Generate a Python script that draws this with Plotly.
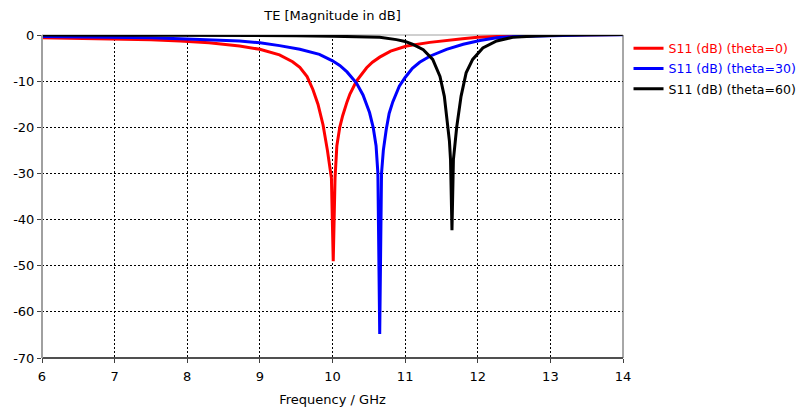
import plotly.graph_objects as go

title_text = "TE [Magnitude in dB]"
x_title = "Frequency / GHz"
series_names = ["S11 (dB) (theta=0)", "S11 (dB) (theta=30)", "S11 (dB) (theta=60)"]
series_colors = ["#ff0000", "#0000ff", "#000000"]

freq_t0 = [6.0, 6.5, 7.0, 7.5, 7.9, 8.3, 8.72, 9.0, 9.27, 9.45, 9.55, 9.65, 9.73, 9.80, 9.87,
           9.93, 9.985, 10.01, 10.035, 10.06, 10.10, 10.14, 10.20, 10.24, 10.33, 10.41, 10.47,
           10.55, 10.65, 10.8, 11.02, 11.34, 11.6, 11.79, 12.0, 12.26, 12.6, 13.0, 13.5, 14.0]
s11_t0 = [-0.6, -0.7, -0.85, -1.05, -1.3, -1.7, -2.4, -3.1, -4.3, -5.8, -7.0, -9.0, -11.8, -15.0, -19.5,
          -25.0, -31.0, -49.0, -31.0, -24.0, -20.0, -17.5, -14.5, -12.8, -10.0, -8.2, -7.1,
          -5.9, -4.8, -3.5, -2.4, -1.6, -1.1, -0.8, -0.5, -0.3, -0.1, 0.0, 0.05, 0.1]

freq_t30 = [6.0, 6.5, 7.0, 7.5, 7.9, 8.3, 8.72, 9.0, 9.27, 9.55, 9.82, 10.0, 10.1, 10.2, 10.33,
            10.42, 10.51, 10.56, 10.60, 10.625, 10.65, 10.675, 10.70, 10.74, 10.78, 10.83, 10.92,
            11.0, 11.10, 11.2, 11.34, 11.57, 11.80, 12.03, 12.26, 12.53, 13.0, 13.5, 14.0]
s11_t30 = [-0.3, -0.35, -0.45, -0.6, -0.8, -1.0, -1.3, -1.7, -2.3, -3.1, -4.2, -5.6, -6.6, -8.0, -10.4,
           -13.0, -16.8, -20.0, -24.0, -30.0, -64.8, -30.0, -25.0, -20.5, -17.0, -14.5, -11.1,
           -9.2, -7.2, -5.9, -4.6, -3.1, -2.0, -1.2, -0.6, -0.3, -0.1, 0.0, 0.05]

freq_t60 = [6.0, 7.0, 8.0, 9.0, 9.5, 10.0, 10.4, 10.65, 10.88, 11.0, 11.10, 11.25, 11.38, 11.48,
            11.54, 11.58, 11.61, 11.625, 11.645, 11.665, 11.69, 11.71, 11.77, 11.84, 11.93, 12.07,
            12.26, 12.48, 12.8, 13.2, 14.0]
s11_t60 = [0.0, 0.0, -0.05, -0.1, -0.15, -0.25, -0.35, -0.5, -1.0, -1.4, -2.0, -3.2, -5.3, -9.0,
           -13.3, -18.4, -23.0, -27.0, -42.3, -27.0, -23.0, -20.0, -13.3, -8.2, -5.3, -2.8,
           -1.3, -0.5, -0.2, 0.0, 0.1]

x_ticks = [6, 7, 8, 9, 10, 11, 12, 13, 14]
y_ticks = [0, -10, -20, -30, -40, -50, -60, -70]

FONT = "DejaVu Sans"

fig = go.Figure()
for i, (fx, fy, name, col) in enumerate(zip([freq_t0, freq_t30, freq_t60], [s11_t0, s11_t30, s11_t60],
                                            series_names, series_colors)):
    fig.add_trace(go.Scatter(
        x=fx, y=fy, mode="lines",
        name=f"<span style='color:{col}'>{name}</span>",
        legendgroup=f"g{i}",
        line=dict(color=col, width=3),
    ))

# page body adds an 8px offset; margins compensate
fig.update_layout(
    width=797, height=401,
    margin=dict(l=34, r=182, t=27, b=51, pad=0, autoexpand=False),
    paper_bgcolor="white", plot_bgcolor="white",
    font=dict(family=FONT, size=13, color="black"),
    title=dict(text=title_text, x=0.5, xref="paper", xanchor="center",
               y=1, yref="container", yanchor="top", pad=dict(t=3),
               font=dict(family=FONT, size=13, color="black")),
    showlegend=True,
    legend=dict(x=1.0095, xanchor="left", y=1.004, yanchor="top", traceorder="grouped",
                font=dict(family=FONT, size=12.5),
                bgcolor="rgba(0,0,0,0)", tracegroupgap=1, itemwidth=30),
)

fig.update_xaxes(
    range=[6, 14], tickvals=x_ticks, ticktext=[str(v) for v in x_ticks],
    showgrid=True, gridcolor="black", gridwidth=1, griddash="2px,2px",
    zeroline=False, showline=False, automargin=False,
    ticks="outside", ticklen=4, tickcolor="#404040", tickwidth=1, ticklabelstandoff=2,
    title=dict(text=x_title, font=dict(family=FONT, size=13), standoff=12),
    tickfont=dict(family=FONT, size=13),
)
fig.update_yaxes(
    range=[-70, 0], tickvals=y_ticks, ticktext=[str(v) for v in y_ticks],
    showgrid=True, gridcolor="black", gridwidth=1, griddash="2px,2px",
    zeroline=False, showline=False, automargin=False,
    ticks="outside", ticklen=4, tickcolor="#404040", tickwidth=1,
    tickfont=dict(family=FONT, size=13),
)

# plot frame
fig.add_shape(type="line", xref="paper", yref="paper", x0=0, x1=1, y0=0, y1=0,
              line=dict(color="#505050", width=2), layer="above")
fig.add_shape(type="line", xref="paper", yref="paper", x0=0, x1=1, y0=1, y1=1,
              line=dict(color="#a0a0a0", width=1), layer="below")
fig.add_shape(type="line", xref="paper", yref="paper", x0=0, x1=0, y0=0, y1=1,
              line=dict(color="#a0a0a0", width=2), layer="above")
fig.add_shape(type="line", xref="paper", yref="paper", x0=1, x1=1, y0=0, y1=1,
              line=dict(color="#505050", width=1), layer="above")

fig.write_html("out.html")
